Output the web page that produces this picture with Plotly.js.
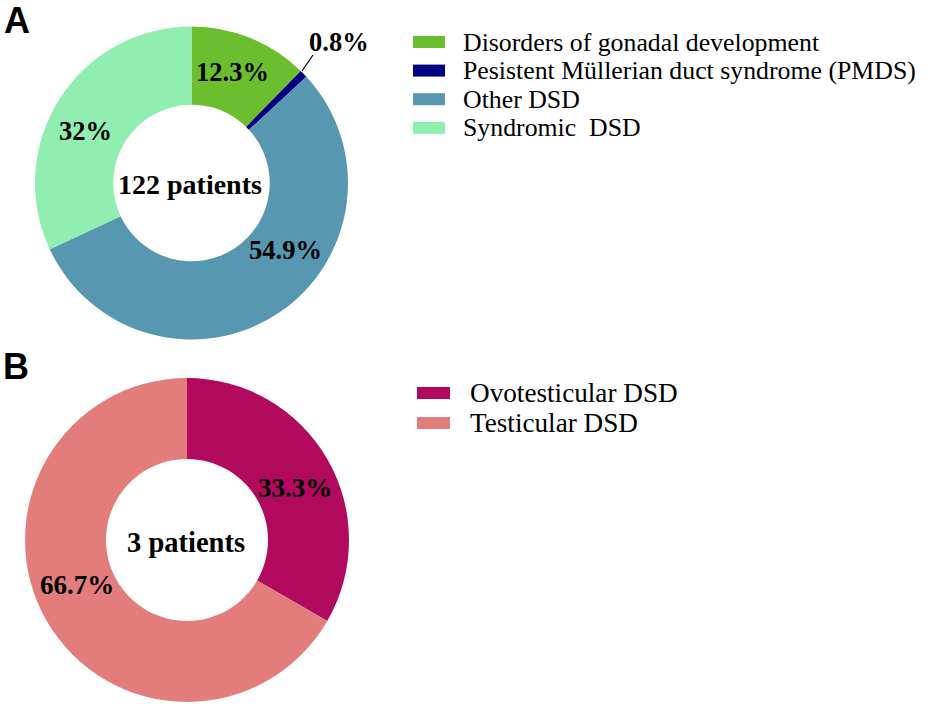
<!DOCTYPE html>
<html>
<head>
<meta charset="utf-8">
<script src="https://cdn.plot.ly/plotly-3.0.1.min.js"></script>
<style>html,body{margin:0;padding:0;background:#fff;}#chart{width:941px;height:704px;}</style>
</head>
<body>
<div id="chart"></div>
<script>
// ---- Data ----
const catsA = ['Disorders of gonadal development', 'Pesistent Müllerian duct syndrome (PMDS)', 'Other DSD', 'Syndromic  DSD'];
const countsA = [15, 1, 67, 39];
const pctLabelsA = ['12.3%', '0.8%', '54.9%', '32%'];
const colorsA = ['#6bbf2f', '#000080', '#5797b0', '#90eeb0'];

const catsB = ['Ovotesticular DSD', 'Testicular DSD'];
const countsB = [1, 2];
const pctLabelsB = ['33.3%', '66.7%'];
const colorsB = ['#b0095e', '#e27d7c'];

// ---- helpers: pixel -> paper ----
const W = 941, H = 704;
const px = x => x / W;
const py = y => 1 - y / H;

const serif = '"Liberation Serif", "Times New Roman", serif';
const sans = '"Liberation Sans", Arial, sans-serif';

const traces = [
  {
    type: 'pie', labels: catsA, values: countsA, hole: 0.5,
    sort: false, direction: 'clockwise', rotation: 0,
    marker: {colors: colorsA, line: {width: 0}},
    textinfo: 'none', hoverinfo: 'label+percent', showlegend: false,
    domain: {x: [px(35), px(348)], y: [py(340), py(26)]}
  },
  {
    type: 'pie', labels: catsB, values: countsB, hole: 0.5,
    sort: false, direction: 'clockwise', rotation: 0,
    marker: {colors: colorsB, line: {width: 0}},
    textinfo: 'none', hoverinfo: 'label+percent', showlegend: false,
    domain: {x: [px(25), px(349)], y: [py(702), py(378)]}
  }
];

const annotations = [];
const shapes = [];

function lbl(text, x, y, size, bold, font, anchor) {
  annotations.push({
    xref: 'paper', yref: 'paper', x: px(x), y: py(y),
    xanchor: anchor || 'center', yanchor: 'middle', showarrow: false,
    text: bold ? '<b>' + text + '</b>' : text,
    font: {family: font || serif, size: size, color: '#000'}
  });
}

// percentage labels (placement positions)
const posA = [[232, 72], [339, 42], [285, 250], [85, 131]];
pctLabelsA.forEach((t, i) => lbl(t, posA[i][0], posA[i][1], 26.5, true));
const posB = [[295, 488], [77, 585]];
pctLabelsB.forEach((t, i) => lbl(t, posB[i][0], posB[i][1], 27, true));

// leader line for the tiny slice
shapes.push({type: 'line', xref: 'paper', yref: 'paper',
  x0: px(313), y0: py(55), x1: px(302), y1: py(71), line: {color: '#000', width: 1.2}});

// centre totals
const sum = a => a.reduce((s, v) => s + v, 0);
lbl(sum(countsA) + ' patients', 190, 184, 28, true);
lbl(sum(countsB) + ' patients', 186, 542, 28.5, true);

// panel letters
lbl('A', 17, 20, 36, true, sans);
lbl('B', 16, 366, 36, true, sans);

// legends
function legend(cats, colors, sx0, sx1, tx, y0, step, size) {
  cats.forEach((c, i) => {
    const y = y0 + i * step;
    shapes.push({type: 'rect', xref: 'paper', yref: 'paper',
      x0: px(sx0), x1: px(sx1), y0: py(y - 6), y1: py(y + 6),
      fillcolor: colors[i], line: {width: 0}});
    lbl(c, tx, y, size, false, serif, 'left');
  });
}
legend(catsA, colorsA, 413, 445, 461, 42, 28.6, 25.8);
legend(catsB, colorsB, 417, 450, 468, 393, 30, 27.2);

const layout = {
  width: W, height: H,
  margin: {l: 0, r: 0, t: 0, b: 0},
  paper_bgcolor: '#fff', plot_bgcolor: '#fff',
  showlegend: false,
  annotations: annotations,
  shapes: shapes
};

Plotly.newPlot('chart', traces, layout, {displayModeBar: false, staticPlot: true});
</script>
</body>
</html>
